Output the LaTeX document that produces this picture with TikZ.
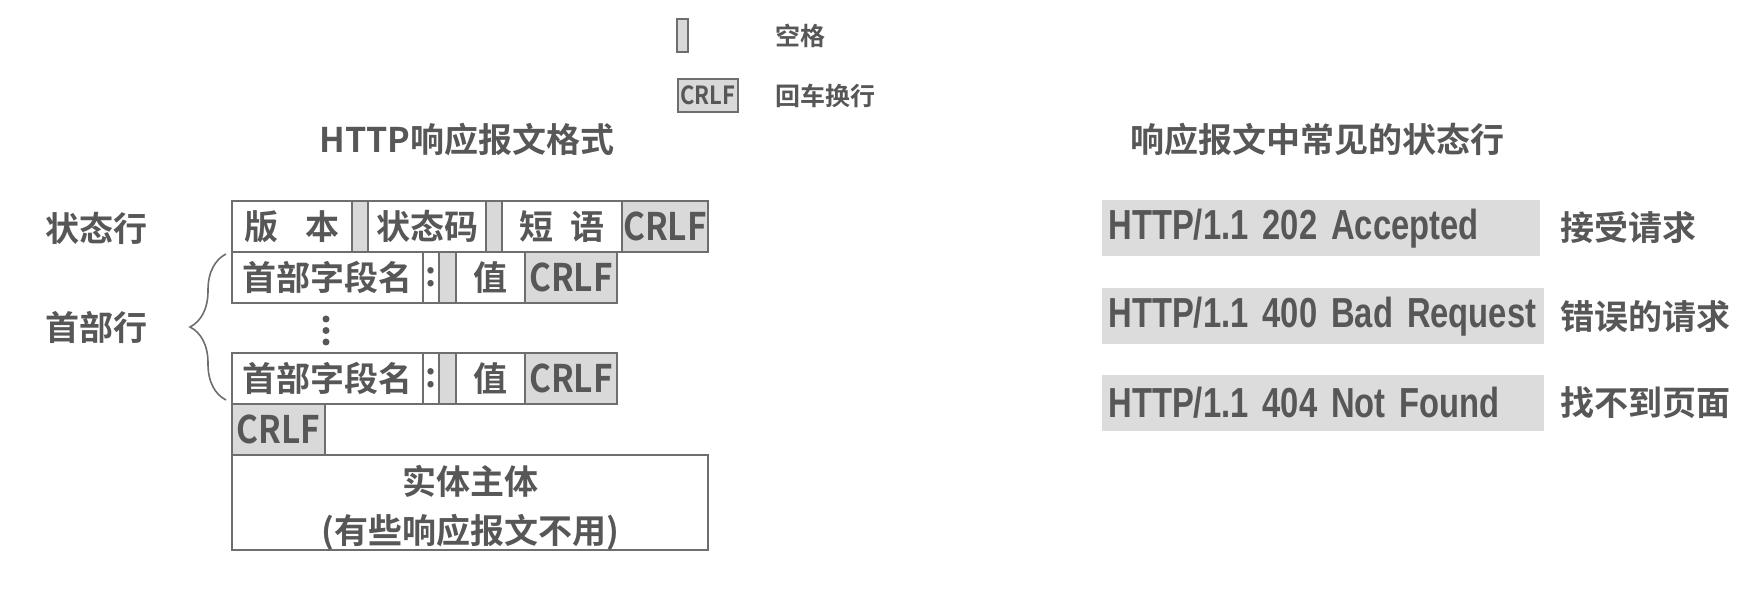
\documentclass[tikz,border=0pt]{standalone}
\usepackage{fontspec}
\setmainfont{Noto Sans CJK SC Bold}
\newfontfamily\httpfont[FakeStretch=0.78, WordSpace=0.8]{Liberation Sans Bold}
\newfontfamily\crlffont[FakeStretch=0.88]{Noto Sans CJK SC Bold}
\usetikzlibrary{positioning,decorations.pathreplacing}
\definecolor{ink}{HTML}{575757}
\definecolor{cellgray}{HTML}{D9D9D9}
\definecolor{codegray}{HTML}{DCDCDC}
\definecolor{rim}{HTML}{6E6E6E}
\tikzstyle{cell} = [
    draw=rim,
    line width=1pt,
    fill=white,
    inner sep=0pt,
    outer sep=0pt,
    minimum height=25.5pt,
    text=ink,
    font=\fontsize{17}{20}\selectfont]
\tikzstyle{gap} = [cell, fill=cellgray, minimum width=8pt]
\tikzstyle{crlf} = [cell, fill=cellgray, font=\crlffont\fontsize{19}{22}\selectfont]
\tikzstyle{code} = [
    fill=codegray,
    inner xsep=3pt,
    inner ysep=0pt,
    minimum height=28pt,
    text width=215pt,
    align=left,
    text=ink,
    font=\httpfont\fontsize{21}{24}\selectfont]
\tikzstyle{caption} = [text=ink, font=\fontsize{17}{20}\selectfont]
\tikzstyle{note} = [text=ink, font=\fontsize{12.5}{15}\selectfont]

\begin{document}
\begin{tikzpicture}[x=0.5pt, y=-0.5pt]
        \useasboundingbox (0,0) rectangle (1755,598);

        % legend
        \node[gap, minimum width=5.5pt, minimum height=16.5pt] (legsp) at (682.5,35.5) {};
        \node[note, anchor=west] (legsptxt) at (768,35.5) {空格};
        \node[crlf, minimum width=30pt, minimum height=16.5pt, font=\crlffont\fontsize{12.5}{15}\selectfont] (legcrlf) at (708,95.5) {CRLF};
        \node[note, anchor=west] (legcrlftxt) at (768,95.5) {回车换行};

        % message format
        \node[caption] (title) at (467,140) {HTTP响应报文格式};
        \node[caption] (statline) at (96,228) {状态行};
        \node[caption] (headline) at (96,327) {首部行};

        \node[cell, minimum width=60pt, anchor=north west] (ver) at (232,201) {版\hspace{0.8em}本};
        \node[gap] (sp1) [right = 0pt of ver] {};
        \node[cell, minimum width=59pt] (code) [right = 0pt of sp1] {状态码};
        \node[gap] (sp2) [right = 0pt of code] {};
        \node[cell, minimum width=60pt] (phrase) [right = 0pt of sp2] {短\hspace{0.5em}语};
        \node[crlf, minimum width=43pt] (crlf0) [right = 0pt of phrase] {CRLF};

        \foreach \r/\y in {1/252, 2/353} {
            \node[cell, minimum width=95.5pt, anchor=north west] (name\r) at (232,\y) {首部字段名};
            \node[cell, minimum width=8pt] (colon\r) [right = 0pt of name\r] {:};
            \node[gap, minimum width=8.5pt] (hsp\r) [right = 0pt of colon\r] {};
            \node[cell, minimum width=34.5pt] (val\r) [right = 0pt of hsp\r] {值};
            \node[crlf, minimum width=46pt] (crlf\r) [right = 0pt of val\r] {CRLF};
        }
        \foreach \y in {319,330.5,342}
            \fill[ink] (326,\y) circle (1.75pt);

        \node[crlf, minimum width=46.5pt] (blank) [below = 0pt of name2.south west, anchor=north west] {CRLF};
        \node[cell, minimum width=238pt, minimum height=47.5pt, font=\fontsize{17}{24.5}\selectfont] (body)
            [below = 0pt of blank.south west, anchor=north west]
            {\raisebox{-7.5pt}[0pt][0pt]{\begin{tabular}{@{}c@{}}实体主体\\(有些响应报文不用)\end{tabular}}};

        \path (name2.south west) ++(-6,-4) coordinate (bb);
        \path (name1.north west) ++(-6,2) coordinate (bt);
        \draw[rim, line width=0.8pt, decorate, decoration={brace, amplitude=18pt}] (bb) -- (bt);

        % common status lines
        \node[caption] (title2) at (1317,140) {响应报文中常见的状态行};
        \node[code, text width=213pt, anchor=north west] (ok) at (1102,200) {\mbox{HTTP/1.1 202 Accepted}};
        \node[code] (bad) [below = 15.5pt of ok.south west, anchor=north west] {\mbox{HTTP/1.1 400 Bad Request}};
        \node[code] (miss) [below = 15pt of bad.south west, anchor=north west] {\mbox{HTTP/1.1 404 Not Found}};
        \node[caption, anchor=west] (oktxt) at (1553,228) {接受请求};
        \node[caption, anchor=west] (badtxt) [right = 4.5pt of bad] {错误的请求};
        \node[caption, anchor=west] (misstxt) [right = 4.5pt of miss] {找不到页面};
    \end{tikzpicture}
\end{document}
